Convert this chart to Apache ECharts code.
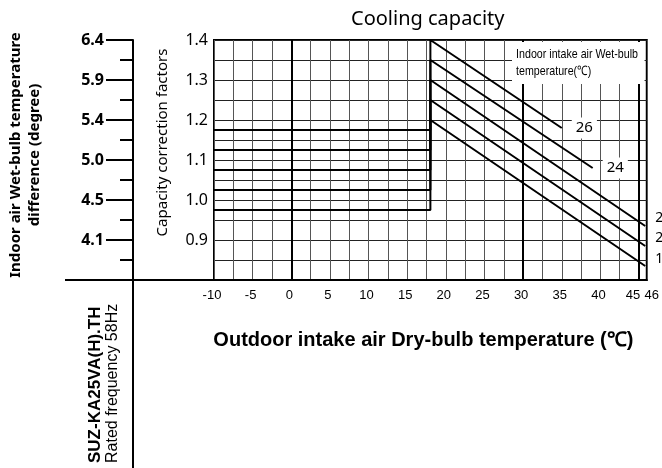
<!DOCTYPE html>
<html>
<head>
<meta charset="utf-8">
<script src="https://cdn.jsdelivr.net/npm/echarts@6/dist/echarts.min.js"></script>
<style>
  html, body { margin: 0; padding: 0; background: #fff; }
  #chart { width: 662px; height: 468px; }
</style>
</head>
<body>
<div id="chart"></div>
<script>
// indoor wet-bulb curves, top to bottom
const wetBulbLabels = ['26', '24', '22', '20', '18'];
const startDryBulb = [-10, -10, -10, -10, -10];
const lowFactor = [1.175, 1.125, 1.075, 1.025, 0.975];
const breakDryBulb = [18, 18, 18, 18, 18];
const breakFactor = [1.4, 1.35, 1.3, 1.25, 1.2];
const endDryBulb = [35, 39, 45.8, 45.8, 45.8];
const endFactor = [1.18, 1.08, 0.935, 0.885, 0.835];

const dryBulbTicks = [-10, -5, 0, 5, 10, 15, 20, 25, 30, 35, 40, 45, 46];
const heavyDryBulb = [0, 30, 45];
const factorTicks = [0.9, 1.0, 1.1, 1.2, 1.3, 1.4];
const wbDiffLabels = ['4.1', '4.5', '5.0', '5.4', '5.9', '6.4'];

const GRID_LEFT = 214, GRID_TOP = 40, GRID_W = 433, GRID_H = 240;
const LEFT_AXIS_X = 133;
const BASE_Y = GRID_TOP + GRID_H;

const myChart = echarts.init(document.getElementById('chart'));

const tickIndex = (arr, v) => arr.findIndex(t => Math.abs(t - v) < 1e-6);

// end label placement per curve
const endLabelStyle = [
  { distance: 10, offset: [0, 0], bg: '#fff', size: 15 },
  { distance: 10, offset: [0, 0], bg: '#fff', size: 15 },
  { distance: 6, offset: [0, -8], bg: 'transparent', size: 14 },
  { distance: 6, offset: [0, -8], bg: 'transparent', size: 14 },
  { distance: 6, offset: [0, -7], bg: 'transparent', size: 14 },
];

const curveSeries = wetBulbLabels.map((name, i) => ({
  name: name,
  type: 'line',
  symbol: 'none',
  silent: true,
  lineStyle: { color: '#000', width: 2 },
  data: [
    [startDryBulb[i], lowFactor[i]],
    [breakDryBulb[i], lowFactor[i]],
    [breakDryBulb[i], breakFactor[i]],
    [endDryBulb[i], endFactor[i]],
  ],
  endLabel: {
    show: true,
    formatter: name,
    distance: endLabelStyle[i].distance,
    offset: endLabelStyle[i].offset,
    backgroundColor: endLabelStyle[i].bg,
    padding: [3, 4, 3, 4],
    color: '#000',
    fontFamily: 'Noto Sans',
    fontSize: endLabelStyle[i].size,
  },
  z: 5,
}));

curveSeries[0].markLine = {
  silent: true,
  symbol: ['none', 'none'],
  label: { show: false },
  lineStyle: { color: '#000', width: 2, type: 'solid' },
  data: heavyDryBulb.map(v => ({ xAxis: v })),
};

myChart.setOption({
  animation: false,
  backgroundColor: '#fff',
  title: {
    text: 'Cooling capacity',
    left: 351,
    top: 9,
    padding: 0,
    textStyle: { fontFamily: 'Noto Sans', fontWeight: 'normal', fontSize: 20, color: '#000' },
  },
  grid: {
    left: GRID_LEFT,
    top: GRID_TOP,
    width: GRID_W,
    height: GRID_H,
    show: true,
    borderColor: '#000',
    borderWidth: 2,
  },
  xAxis: {
    type: 'value',
    min: -10,
    max: 46,
    interval: 2.5,
    axisLine: { show: true, lineStyle: { color: '#000', width: 2 } },
    axisTick: { show: false },
    splitLine: { show: true, lineStyle: { color: '#555', width: 1 } },
    axisLabel: {
      showMinLabel: true,
      showMaxLabel: true,
      margin: 9,
      formatter: v => {
        if (tickIndex(dryBulbTicks, v) < 0) return '';
        if (v === 45) return '{l|45}';
        if (v === 46) return '{r|46}';
        return '{n|' + v + '}';
      },
      rich: {
        n: { fontFamily: 'Liberation Sans', fontSize: 13, color: '#000', padding: [0, 4, 0, 0] },
        l: { fontFamily: 'Liberation Sans', fontSize: 13, color: '#000', padding: [0, 12, 0, 0] },
        r: { fontFamily: 'Liberation Sans', fontSize: 13, color: '#000', padding: [0, 0, 0, 10] },
      },
    },
    name: 'Outdoor intake air Dry-bulb temperature (℃)',
    nameLocation: 'middle',
    nameGap: 50,
    nameTextStyle: {
      fontFamily: 'Liberation Sans',
      fontWeight: 'bold',
      fontSize: 20,
      color: '#000',
      padding: [0, 14, 0, 0],
    },
  },
  yAxis: [
    {
      type: 'value',
      min: 0.8,
      max: 1.4,
      interval: 0.05,
      axisLine: { show: true, lineStyle: { color: '#000', width: 2 } },
      axisTick: { show: false },
      splitLine: { show: true, lineStyle: { color: '#222', width: 1 } },
      axisLabel: {
        margin: 6,
        color: '#000',
        fontFamily: 'Noto Sans',
        fontSize: 16,
        formatter: v => (tickIndex(factorTicks, v) >= 0 ? v.toFixed(1) : ''),
      },
      name: 'Capacity correction factors',
      nameLocation: 'middle',
      nameRotate: 90,
      nameGap: 44,
      nameTextStyle: {
        fontFamily: 'Noto Sans',
        fontSize: 15,
        color: '#000',
        padding: [0, 0, 0, 35],
      },
    },
    {
      type: 'value',
      position: 'left',
      offset: GRID_LEFT - LEFT_AXIS_X,
      min: 0.8,
      max: 1.4,
      interval: 0.1,
      axisLine: { show: true, lineStyle: { color: '#000', width: 2 } },
      axisTick: { show: true, length: 27, lineStyle: { color: '#000', width: 2 } },
      minorTick: { show: true, splitNumber: 2, length: 13, lineStyle: { color: '#000', width: 2 } },
      splitLine: { show: false },
      axisLabel: {
        margin: 29,
        color: '#000',
        fontFamily: 'Noto Sans',
        fontWeight: 'bold',
        fontSize: 16,
        formatter: v => {
          const i = tickIndex(factorTicks, v);
          return i >= 0 ? wbDiffLabels[i] : '';
        },
      },
    },
  ],
  graphic: [
    {
      type: 'line',
      z: 10,
      shape: { x1: 65, y1: BASE_Y, x2: GRID_LEFT, y2: BASE_Y },
      style: { stroke: '#000', lineWidth: 2 },
    },
    {
      type: 'line',
      z: 10,
      shape: { x1: LEFT_AXIS_X, y1: BASE_Y, x2: LEFT_AXIS_X, y2: 468 },
      style: { stroke: '#000', lineWidth: 2 },
    },
    {
      type: 'text',
      z: 10,
      x: 25.5,
      y: 155,
      rotation: Math.PI / 2,
      style: {
        text: 'Indoor air Wet-bulb temperature\ndifference (degree)',
        fontFamily: 'Noto Sans',
        fontWeight: 'bold',
        fontSize: 15,
        lineHeight: 19,
        fill: '#000',
        align: 'center',
        verticalAlign: 'middle',
      },
    },
    {
      type: 'text',
      z: 10,
      x: 104,
      y: 463,
      rotation: Math.PI / 2,
      style: {
        text: '{b|SUZ-KA25VA(H).TH}\n{r|Rated frequency 58Hz}',
        align: 'left',
        verticalAlign: 'middle',
        rich: {
          b: { fontFamily: 'Liberation Sans', fontWeight: 'bold', fontSize: 17, lineHeight: 18, fill: '#000' },
          r: { fontFamily: 'Liberation Sans', fontSize: 16, lineHeight: 18, fill: '#000' },
        },
      },
    },
    {
      // narrow caption: Liberation Sans squeezed horizontally
      type: 'text',
      z: 50,
      x: 512,
      y: 42,
      scaleX: 0.82,
      style: {
        text: 'Indoor intake air Wet-bulb\ntemperature(℃)',
        fontFamily: 'Liberation Sans',
        fontSize: 13,
        lineHeight: 17,
        fill: '#000',
        backgroundColor: '#fff',
        padding: [4, 8, 4, 5],
        align: 'left',
        verticalAlign: 'top',
      },
    },
  ],
  series: curveSeries,
});

window.onresize = function () {
  myChart.resize();
};
</script>
</body>
</html>
